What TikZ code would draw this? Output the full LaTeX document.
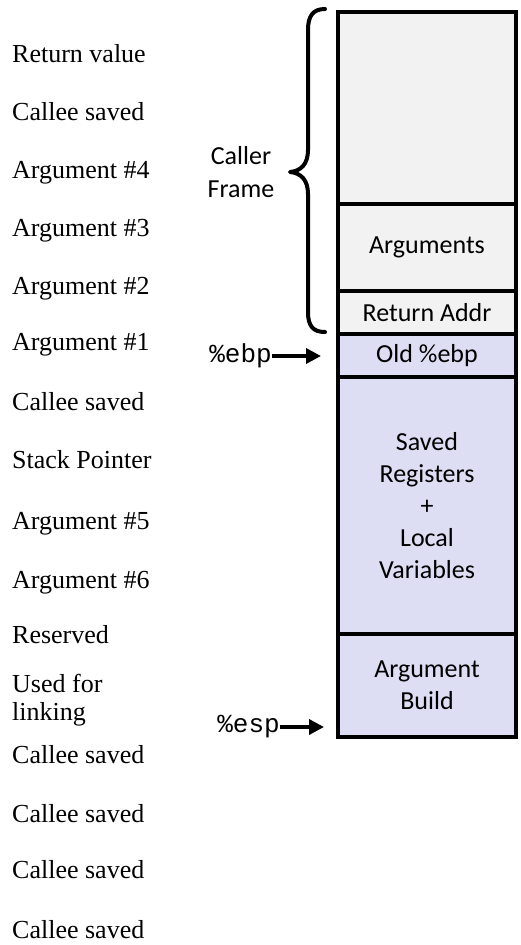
\documentclass[tikz,border=0pt]{standalone}
\usepackage{fontspec}
\setmainfont{Liberation Serif}
\newfontfamily\boxfont{Carlito}
\newfontfamily\regfont{Liberation Mono}
\usetikzlibrary{arrows.meta}

\definecolor{callerfill}{HTML}{F2F2F2}
\definecolor{calleefill}{HTML}{DDDDF4}

\tikzset{
  note/.style={anchor=base west, inner sep=0pt, font=\fontsize{26}{28}\selectfont},
  slot/.style={draw=black, line width=3.6pt, minimum width=178pt, inner sep=0pt,
               align=center, font=\boxfont\fontsize{26}{32}\selectfont},
  caller/.style={slot, fill=callerfill},
  callee/.style={slot, fill=calleefill},
  reglabel/.style={inner sep=0pt, font=\regfont\fontsize{26}{28}\selectfont},
  ptr/.style={line width=3.6pt, -{Triangle[length=15pt,width=15pt]}},
  bracestroke/.style={line width=4pt, line cap=round, line join=round}
}

\begin{document}
\begin{tikzpicture}[x=1pt, y=-1pt]
  \useasboundingbox (0,0) rectangle (521,945);

  % register usage notes down the left side
  \node[note] (n1)  at (12,62)  {Return value};
  \node[note] (n2)  at (12,120) {Callee saved};
  \node[note] (n3)  at (12,178) {Argument \#4};
  \node[note] (n4)  at (12,236) {Argument \#3};
  \node[note] (n5)  at (12,294) {Argument \#2};
  \node[note] (n6)  at (12,350) {Argument \#1};
  \node[note] (n7)  at (12,410) {Callee saved};
  \node[note] (n8)  at (12,468) {Stack Pointer};
  \node[note] (n9)  at (12,529) {Argument \#5};
  \node[note] (n10) at (12,588) {Argument \#6};
  \node[note] (n11) at (12,643) {Reserved};
  \node[note, align=left] (n12) at (12,720) {Used for\\linking};
  \node[note] (n13) at (12,763) {Callee saved};
  \node[note] (n14) at (12,822) {Callee saved};
  \node[note] (n15) at (12,878) {Callee saved};
  \node[note] (n16) at (12,938) {Callee saved};

  % the stack, from the caller's frame down to the top of stack
  \node[caller, minimum height=192pt] (top)  at (427,108)   {};
  \node[caller, minimum height=87pt]  (args) at (427,247.5) {Arguments};
  \node[caller, minimum height=43pt]  (ret)  at (427,312.5) {Return Addr};
  \node[callee, minimum height=43pt]  (old)  at (427,355.5) {Old \%ebp};
  \node[callee, minimum height=257pt] (save) at (427,505.5)
       {Saved\\Registers\\+\\Local\\Variables};
  \node[callee, minimum height=103pt] (build) at (427,685.5) {Argument\\Build};

  % brace over the caller frame
  \draw[bracestroke]
    (325,9) .. controls (313,9) and (308,16) .. (308,30)
    -- (308,150) .. controls (308,164) and (301,171) .. (290,172)
    .. controls (301,173) and (308,180) .. (308,194)
    -- (308,312) .. controls (308,326) and (313,332) .. (325,332);
  \node[font=\boxfont\fontsize{26}{33}\selectfont, align=center, inner sep=0pt]
       (frame) at (241,172) {Caller\\Frame};

  % frame and stack pointers
  \node[reglabel, anchor=east] (ebp) at (272,356) {\%ebp};
  \coordinate (ebptip) at (321,356);
  \draw[ptr] (ebp.east) -- (ebptip);

  \node[reglabel, anchor=east] (esp) at (280,727) {\%esp};
  \coordinate (esptip) at (324,727);
  \draw[ptr] (esp.east) -- (esptip);
\end{tikzpicture}
\end{document}
